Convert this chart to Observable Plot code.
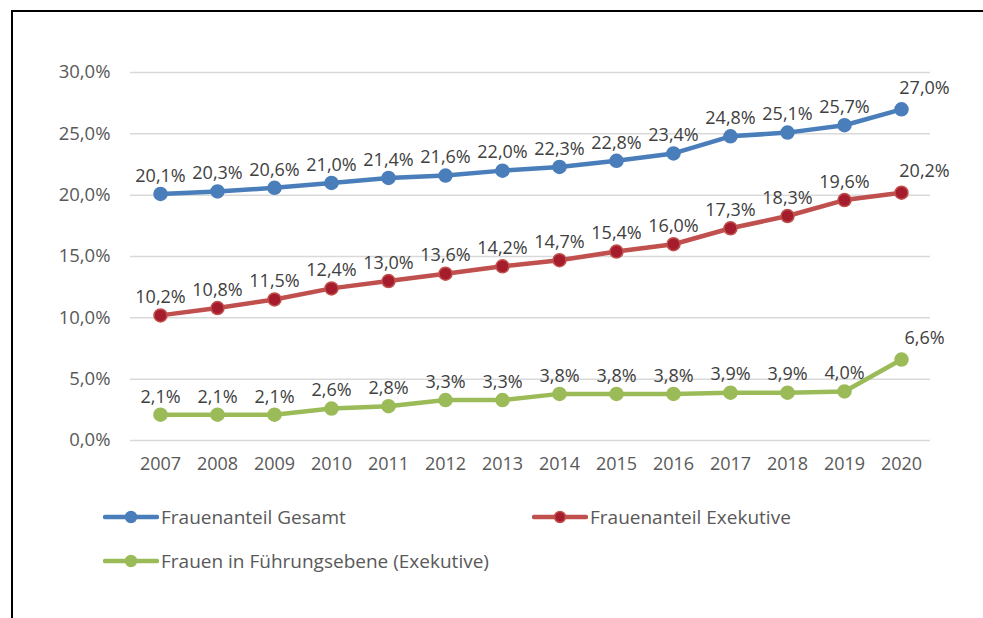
<!DOCTYPE html>
<html>
<head>
<meta charset="utf-8">
<script src="https://cdn.jsdelivr.net/npm/d3@7"></script>
<script src="https://cdn.jsdelivr.net/npm/@observablehq/plot@0.6"></script>
<style>
  html, body { margin: 0; padding: 0; background: #fff; width: 983px; height: 618px; overflow: hidden; }
  body { position: relative; font-family: "Open Sans", Lato, sans-serif; }
  #frame { position: absolute; left: 11px; top: 10px; width: 1100px; height: 700px; border-left: 2px solid #000; border-top: 2px solid #000; }
  #chart { position: absolute; left: 0; top: 0; }
  .leg { position: absolute; display: flex; align-items: center; font-size: 19px; color: #595959; }
  .leg svg { display: block; margin-right: 2px; }
</style>
</head>
<body>
<div id="frame"></div>
<div id="chart"></div>
<div id="legend"></div>
<script>
const years = ["2007","2008","2009","2010","2011","2012","2013","2014","2015","2016","2017","2018","2019","2020"];
const gesamt = [20.1,20.3,20.6,21.0,21.4,21.6,22.0,22.3,22.8,23.4,24.8,25.1,25.7,27.0];
const exekutive = [10.2,10.8,11.5,12.4,13.0,13.6,14.2,14.7,15.4,16.0,17.3,18.3,19.6,20.2];
const fuehrung = [2.1,2.1,2.1,2.6,2.8,3.3,3.3,3.8,3.8,3.8,3.9,3.9,4.0,6.6];
const yTicks = [0,5,10,15,20,25,30];
const seriesNames = ["Frauenanteil Gesamt","Frauenanteil Exekutive","Frauen in Führungsebene (Exekutive)"];
const seriesColors = ["#4A7EBB","#C0504D","#9BBB59"];
const markerFill = ["#4A7EBB","#A51D2D","#9BBB59"];

const fmt = v => v.toFixed(1).replace(".", ",") + "%";

const allSeries = [gesamt, exekutive, fuehrung];
const rows = [];
allSeries.forEach((vals, s) => {
  vals.forEach((v, i) => rows.push({series: s, year: years[i], value: v, last: i === years.length - 1}));
});

const marks = [
  Plot.ruleY(yTicks, {stroke: "#d9d9d9", strokeWidth: 1.5}),
  Plot.axisY(yTicks, {tickSize: 0, tickPadding: 20, tickFormat: fmt, fontSize: 18.5, fill: "#595959", label: null}),
  Plot.axisX(years, {tickSize: 0, tickPadding: 17, fontSize: 18, fill: "#595959", label: null})
];
allSeries.forEach((vals, s) => {
  const d = rows.filter(r => r.series === s);
  marks.push(Plot.line(d, {x: "year", y: "value", stroke: seriesColors[s], strokeWidth: 4.5, strokeLinejoin: "round", strokeLinecap: "round"}));
  marks.push(Plot.dot(d, {x: "year", y: "value", r: 6.5, fill: markerFill[s], stroke: seriesColors[s], strokeWidth: 1.5}));
  marks.push(Plot.text(d.filter(r => !r.last), {x: "year", y: "value", text: r => fmt(r.value), dy: -18, fontSize: 18, fill: "#404040"}));
  marks.push(Plot.text(d.filter(r => r.last), {x: "year", y: "value", text: r => fmt(r.value), dy: -21, dx: 23, fontSize: 18, fill: "#404040"}));
});

const chart = Plot.plot({
  width: 983,
  height: 490,
  marginLeft: 130,
  marginRight: 53,
  marginTop: 72,
  marginBottom: 50,
  style: {background: "transparent", fontFamily: "'Open Sans', Lato, sans-serif"},
  x: {type: "point", domain: years, padding: 0.5, align: 0.5},
  y: {domain: [0, 30]},
  marks
});
document.getElementById("chart").appendChild(chart);

const legendPos = [[103, 517], [532, 517], [103, 561]];
const legend = document.getElementById("legend");
seriesNames.forEach((name, s) => {
  const el = document.createElement("div");
  el.className = "leg";
  el.style.left = legendPos[s][0] + "px";
  el.style.top = (legendPos[s][1] - 13) + "px";
  el.style.height = "26px";
  el.innerHTML = `<svg width="56" height="14"><line x1="2" y1="7" x2="54" y2="7" stroke="${seriesColors[s]}" stroke-width="4.5" stroke-linecap="round"/><circle cx="28" cy="7" r="5.5" fill="${markerFill[s]}" stroke="${seriesColors[s]}" stroke-width="1.5"/></svg><span>${name}</span>`;
  legend.appendChild(el);
});
</script>
</body>
</html>
